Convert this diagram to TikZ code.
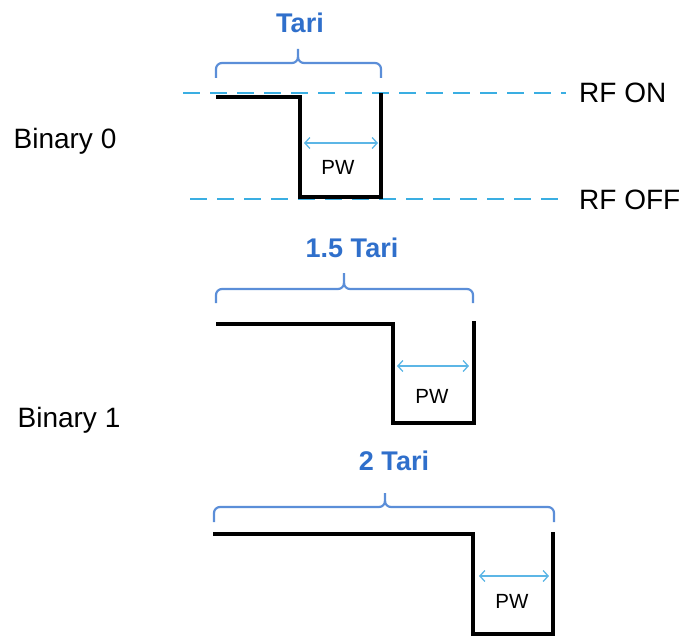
\documentclass[tikz,border=0pt]{standalone}
\usepackage{fontspec}
\setmainfont{Liberation Sans}
\usetikzlibrary{arrows.meta}
\definecolor{tariblue}{HTML}{2F6FCB}
\definecolor{braceblue}{HTML}{5B8ED8}
\definecolor{rfblue}{HTML}{3AAEE2}
\definecolor{pwblue}{HTML}{5CB6E6}
\tikzset{
  lbl/.style={inner sep=0pt, anchor=base, font=\fontsize{28}{31}\selectfont},
  tarilbl/.style={inner sep=0pt, anchor=base, text=tariblue, font=\fontsize{27}{30}\selectfont\bfseries},
  pwlbl/.style={inner sep=0pt, anchor=base, font=\fontsize{20.5}{24}\selectfont},
  signal/.style={line width=3.2pt, black, line join=miter},
  rfline/.style={line width=2.2pt, rfblue, dash pattern=on 17pt off 10pt},
  bracepath/.style={line width=2.2pt, braceblue, line join=round},
  pwarrow/.style={line width=1.3pt, pwblue, {Straight Barb[length=5pt,width=11pt]}-{Straight Barb[length=5pt,width=11pt]}}
}
% brace from x=#1 to x=#3 with its tick at x=#2; top line at y=#4, ends down to #5, tick up to #6
\newcommand{\drawbrace}[6]{%
  \draw[bracepath] (#1,#5) -- (#1,#4+6) to[out=90,in=180] (#1+6,#4)
    -- (#2-6,#4) to[out=0,in=-90] (#2,#4-6) -- (#2,#6);
  \draw[bracepath] (#3,#5) -- (#3,#4+6) to[out=90,in=0] (#3-6,#4)
    -- (#2+6,#4) to[out=180,in=-90] (#2,#4-6);
}
\begin{document}
\begin{tikzpicture}[x=1pt,y=-1pt]
\useasboundingbox (0,0) rectangle (684,636);

% ---------- Binary 0 ----------
\node[lbl] (b0) at (65,149) {Binary 0};
\node[tarilbl] (t0) at (300,33) {Tari};
\drawbrace{216}{298}{381}{63}{78}{49}

\coordinate (on0) at (183,93);
\coordinate (on1) at (566,93);
\coordinate (off0) at (190,199);
\coordinate (off1) at (562,199);
\draw[rfline] (on0) -- (on1);
\draw[rfline] (off0) -- (off1);
\node[lbl, anchor=base west] (rfon) at (579,103) {RF ON};
\node[lbl, anchor=base west] (rfoff) at (579,210) {RF OFF};

\coordinate (s0a) at (216,97);
\coordinate (s0b) at (300,97);
\coordinate (s0c) at (300,197);
\coordinate (s0d) at (381,197);
\coordinate (s0e) at (381,93);
\draw[signal] (s0a) -- (s0b) -- (s0c) -- (s0d) -- (s0e);
\coordinate (pw0l) at (304,143);
\coordinate (pw0r) at (378,143);
\draw[pwarrow] (pw0l) -- (pw0r);
\node[pwlbl] (pw0) at (338,175) {PW};

% ---------- Binary 1, 1.5 Tari ----------
\node[lbl] (b1) at (69,427) {Binary 1};
\node[tarilbl] (t1) at (352,257) {1.5 Tari};
\drawbrace{216}{344}{473}{289}{303}{273}

\coordinate (s1a) at (216,324);
\coordinate (s1b) at (393,324);
\coordinate (s1c) at (393,423);
\coordinate (s1d) at (474,423);
\coordinate (s1e) at (474,321);
\draw[signal] (s1a) -- (s1b) -- (s1c) -- (s1d) -- (s1e);
\coordinate (pw1l) at (397,366);
\coordinate (pw1r) at (469,366);
\draw[pwarrow] (pw1l) -- (pw1r);
\node[pwlbl] (pw1) at (432,403) {PW};

% ---------- Binary 1, 2 Tari ----------
\node[tarilbl] (t2) at (394,470) {2 Tari};
\drawbrace{214}{385}{554}{507}{522}{493}

\coordinate (s2a) at (213,534);
\coordinate (s2b) at (473,534);
\coordinate (s2c) at (473,634);
\coordinate (s2d) at (553,634);
\coordinate (s2e) at (553,532);
\draw[signal] (s2a) -- (s2b) -- (s2c) -- (s2d) -- (s2e);
\coordinate (pw2l) at (479,576);
\coordinate (pw2r) at (549,576);
\draw[pwarrow] (pw2l) -- (pw2r);
\node[pwlbl] (pw2) at (512,608) {PW};
\end{tikzpicture}
\end{document}
